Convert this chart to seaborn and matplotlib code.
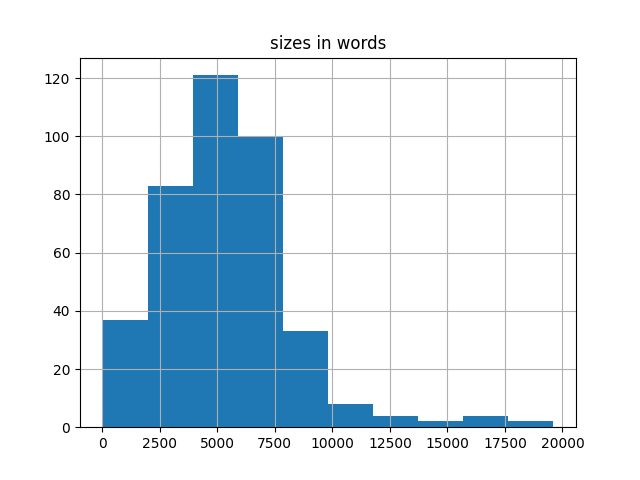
import numpy as np
import pandas as pd
import matplotlib
matplotlib.use("Agg")
import matplotlib.pyplot as plt
import seaborn as sns

# histogram of document sizes (10 equal bins)
size_min = 10
size_max = 19610
bin_counts = [37, 83, 121, 100, 33, 8, 4, 2, 4, 2]

edges = np.linspace(size_min, size_max, len(bin_counts) + 1)
centers = (edges[:-1] + edges[1:]) / 2
df = pd.DataFrame({"size": centers, "count": bin_counts})

fig, ax = plt.subplots(figsize=(6.4, 4.8), dpi=100)
# bins passed as a list: seaborn compares it with "auto" when weights are used
sns.histplot(data=df, x="size", weights="count", bins=edges.tolist(),
             color="#1f77b4", alpha=1, edgecolor="none", linewidth=0, ax=ax)
ax.grid(True)
ax.set_axisbelow("line")
ax.set_title("sizes in words")
ax.set_xlabel("")
ax.set_ylabel("")

plt.savefig("out.png", dpi=100)
